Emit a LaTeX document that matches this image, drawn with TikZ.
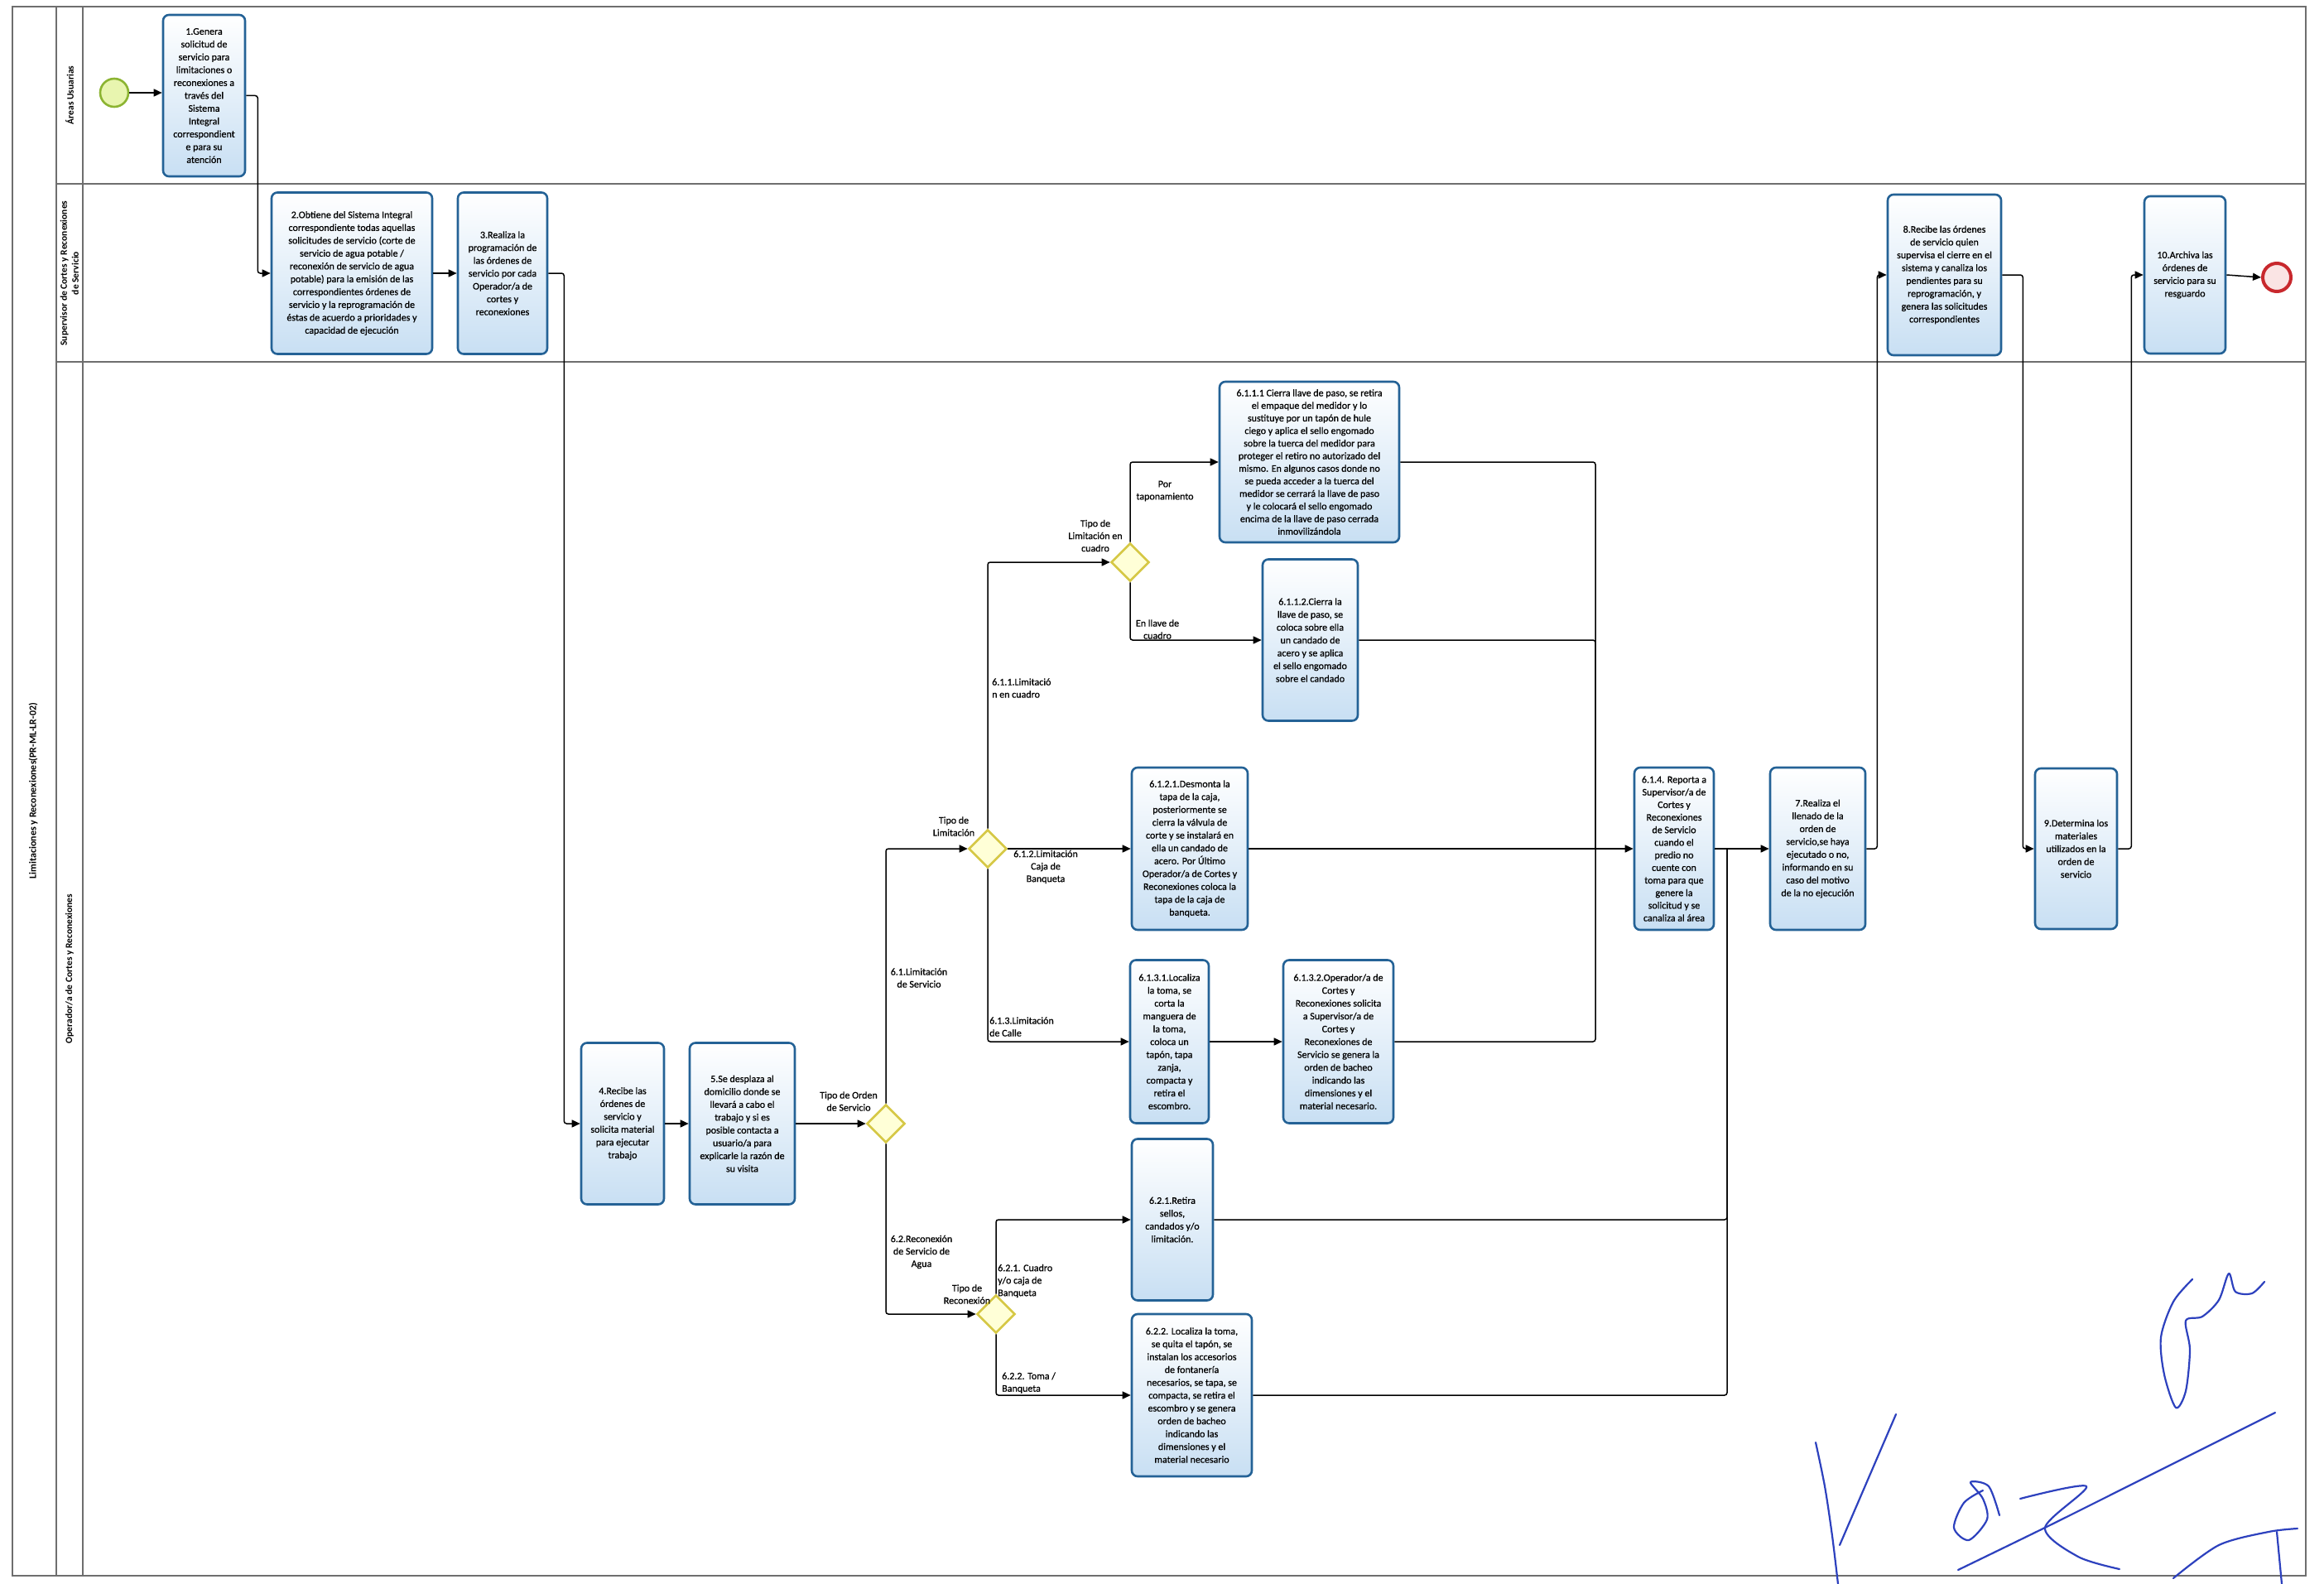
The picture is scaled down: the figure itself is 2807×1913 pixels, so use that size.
\documentclass[tikz,border=0pt]{standalone}
\usepackage{fontspec}
\setmainfont{Carlito}
\newfontfamily\semibold{Carlito}[FakeBold=0.6]
\usetikzlibrary{shapes.geometric,arrows.meta}
\definecolor{taskborder}{RGB}{36,98,150}
\definecolor{taskfill}{RGB}{200,223,243}
\definecolor{gwborder}{RGB}{214,200,70}
\definecolor{gwfill}{RGB}{255,255,215}
\definecolor{startborder}{RGB}{140,180,50}
\definecolor{startfill}{RGB}{232,245,175}
\definecolor{endborder}{RGB}{200,40,45}
\definecolor{endfill}{RGB}{250,228,228}
\definecolor{poolline}{RGB}{110,110,110}
\definecolor{sigblue}{RGB}{45,65,190}
\begin{document}
\begin{tikzpicture}[x=1pt,y=-1pt,
  task/.style={draw=taskborder, line width=2.6pt, rounded corners=7pt,
    top color=white, bottom color=taskfill, align=center,
    font=\semibold\fontsize{12}{15.5}\selectfont, inner sep=2pt},
  gw/.style={diamond, draw=gwborder, line width=2.6pt, fill=gwfill,
    minimum width=46pt, minimum height=46pt, inner sep=0pt},
  flow/.style={draw=black, line width=1.5pt, rounded corners=3pt,
    -{Triangle[length=10pt,width=9pt]}},
  conn/.style={draw=black, line width=1.5pt, rounded corners=3pt},
  elabel/.style={font=\semibold\fontsize{12}{15}\selectfont, align=center, inner sep=0pt},
  lanelabel/.style={rotate=90, font=\bfseries\fontsize{11.5}{14}\selectfont, align=center},
  sig/.style={draw=sigblue, line width=2.2pt, line cap=round, line join=round}
]
\useasboundingbox (0,0) rectangle (2807,1913);
\fill[white] (0,0) rectangle (2807,1913);

% pool and lanes
\draw[poolline, line width=1.6pt] (15,8) rectangle (2785,1903);
\draw[poolline, line width=1.2pt] (68,8) -- (68,1903);
\draw[poolline, line width=1.2pt] (100,8) -- (100,1903);
\draw[poolline, line width=1.2pt] (68,222) -- (2785,222);
\draw[poolline, line width=1.2pt] (68,437) -- (2785,437);
\node[rotate=90, font=\bfseries\fontsize{12}{14}\selectfont] (pooltitle) at (40,955) {Limitaciones y Reconexiones(PR-ML-LR-02)};
\node[lanelabel] (lane1) at (84,115) {Áreas Usuarias};
\node[lanelabel] (lane2) at (84,330) {Supervisor de Cortes y Reconexiones\\de Servicio};
\node[lanelabel] (lane3) at (84,1170) {Operador/a de Cortes y Reconexiones};

% events
\node[circle, draw=startborder, fill=startfill, line width=2.6pt, minimum size=34pt, inner sep=0pt] (start) at (138,112) {};
\node[circle, draw=endborder, fill=endfill, line width=4pt, minimum size=34pt, inner sep=0pt] (end) at (2750,335) {};

% tasks
\node[task, minimum width=99pt, minimum height=195pt] (t1) at (246.5,115.5) {1.Genera\\solicitud de\\servicio para\\limitaciones o\\reconexiones a\\través del\\Sistema\\Integral\\correspondient\\e para su\\atención};
\node[task, minimum width=194pt, minimum height=195pt] (t2) at (425,330) {2.Obtiene del Sistema Integral\\correspondiente todas aquellas\\solicitudes de servicio (corte de\\servicio de agua potable /\\reconexión de servicio de agua\\potable) para la emisión de las\\correspondientes órdenes de\\servicio y la reprogramación de\\éstas de acuerdo a prioridades y\\capacidad de ejecución};
\node[task, minimum width=108pt, minimum height=195pt] (t3) at (607,330) {3.Realiza la\\programación de\\las órdenes de\\servicio por cada\\Operador/a de\\cortes y\\reconexiones};
\node[task, minimum width=100pt, minimum height=195pt] (t4) at (752,1357) {4.Recibe las\\órdenes de\\servicio y\\solicita material\\para ejecutar\\trabajo};
\node[task, minimum width=127pt, minimum height=195pt] (t5) at (896.5,1357) {5.Se desplaza al\\domicilio donde se\\llevará a cabo el\\trabajo y si es\\posible contacta a\\usuario/a para\\explicarle la razón de\\su visita};
\node[task, minimum width=217pt, minimum height=194pt, font=\semibold\fontsize{12}{15.2}\selectfont] (t6111) at (1581.5,558) {6.1.1.1 Cierra llave de paso, se retira\\el empaque del medidor y lo\\sustituye por un tapón de hule\\ciego y aplica el sello engomado\\sobre la tuerca del medidor para\\proteger el retiro no autorizado del\\mismo. En algunos casos donde no\\se pueda acceder a la tuerca del\\medidor se cerrará la llave de paso\\y le colocará el sello engomado\\encima de la llave de paso cerrada\\inmovilizándola};
\node[task, minimum width=115pt, minimum height=195pt] (t6112) at (1582.5,773) {6.1.1.2.Cierra la\\llave de paso, se\\coloca sobre ella\\un candado de\\acero y se aplica\\el sello engomado\\sobre el candado};
\node[task, minimum width=140pt, minimum height=196pt] (t6121) at (1437,1025) {6.1.2.1.Desmonta la\\tapa de la caja,\\posteriormente se\\cierra la válvula de\\corte y se instalará en\\ella un candado de\\acero. Por Último\\Operador/a de Cortes y\\Reconexiones coloca la\\tapa de la caja de\\banqueta.};
\node[task, minimum width=95pt, minimum height=197pt] (t6131) at (1412.5,1258) {6.1.3.1.Localiza\\la toma, se\\corta la\\manguera de\\la toma,\\coloca un\\tapón, tapa\\zanja,\\compacta y\\retira el\\escombro.};
\node[task, minimum width=133pt, minimum height=197pt] (t6132) at (1616.5,1258) {6.1.3.2.Operador/a de\\Cortes y\\Reconexiones solicita\\a Supervisor/a de\\Cortes y\\Reconexiones de\\Servicio se genera la\\orden de bacheo\\indicando las\\dimensiones y el\\material necesario.};
\node[task, minimum width=96pt, minimum height=196pt, font=\semibold\fontsize{12}{15.2}\selectfont] (t614) at (2022,1025) {6.1.4. Reporta a\\Supervisor/a de\\Cortes y\\Reconexiones\\de Servicio\\cuando el\\predio no\\cuente con\\toma para que\\genere la\\solicitud y se\\canaliza al área};
\node[task, minimum width=115pt, minimum height=196pt] (t7) at (2195.5,1025) {7.Realiza el\\llenado de la\\orden de\\servicio,se haya\\ejecutado o no,\\informando en su\\caso del motivo\\de la no ejecución};
\node[task, minimum width=137pt, minimum height=194pt] (t8) at (2348.5,332) {8.Recibe las órdenes\\de servicio quien\\supervisa el cierre en el\\sistema y canaliza los\\pendientes para su\\reprogramación, y\\genera las solicitudes\\correspondientes};
\node[task, minimum width=99pt, minimum height=194pt] (t9) at (2507.5,1025) {9.Determina los\\materiales\\utilizados en la\\orden de\\servicio};
\node[task, minimum width=98pt, minimum height=190pt] (t10) at (2639,332) {10.Archiva las\\órdenes de\\servicio para su\\resguardo};
\node[task, minimum width=98pt, minimum height=195pt] (t621) at (1416,1473) {6.2.1.Retira\\sellos,\\candados y/o\\limitación.};
\node[task, minimum width=145pt, minimum height=196pt] (t622) at (1439.5,1685) {6.2.2. Localiza la toma,\\se quita el tapón, se\\instalan los accesorios\\de fontanería\\necesarios, se tapa, se\\compacta, se retira el\\escombro y se genera\\orden de bacheo\\indicando las\\dimensiones y el\\material necesario};

% gateways
\node[gw] (g1) at (1070,1357) {};
\node[gw] (g2) at (1193,1025) {};
\node[gw] (g4) at (1365,679) {};
\node[gw] (g3) at (1203,1587) {};

% gateway labels
\node[elabel] (g1lab) at (1025,1330) {Tipo de Orden\\de Servicio};
\node[elabel] (g2lab) at (1152,998) {Tipo de\\Limitación};
\node[elabel] (g4lab) at (1323,647) {Tipo de\\Limitación en\\cuadro};
\node[elabel] (g3lab) at (1168,1563) {Tipo de\\Reconexión};

% junction coordinates
\coordinate (j1) at (1927,1025);
\coordinate (j2) at (2086,1025);

% connectors
\draw[flow] (start.east) -- (start.east -| t1.west);
\draw[flow] (t1.east) -- ++(14,0) |- (t2.west);
\draw[flow] (t2.east) -- (t3.west);
\draw[flow] (t3.east) -- ++(19,0) |- (t4.west);
\draw[flow] (t4.east) -- (t5.west);
\draw[flow] (t5.east) -- (g1.west);
\draw[flow] (g1.north) |- (g2.west);
\draw[flow] (g1.south) |- (g3.west);
\draw[flow] (g2.north) |- (g4.west);
\draw[flow] (g2.east) -- (t6121.west);
\draw[flow] (g2.south) |- (t6131.west);
\draw[flow] (g4.north) |- (t6111.west);
\draw[flow] (g4.south) |- (t6112.west);
\draw[flow] (t6131.east) -- (t6132.west);
\draw[conn] (t6111.east) -| (j1);
\draw[conn] (t6112.east) -| (j1);
\draw[conn] (t6132.east) -| (j1);
\draw[flow] (t6121.east) -- (t614.west);
\draw[flow] (g3.north) |- (t621.west);
\draw[flow] (g3.south) |- (t622.west);
\draw[conn] (t621.east) -| (j2);
\draw[conn] (t622.east) -| (j2);
\draw[flow] (t614.east) -- (t7.west);
\draw[flow] (t7.east) -- ++(13,0) |- (t8.west);
\draw[flow] (t8.east) -- ++(25,0) |- (t9.west);
\draw[flow] (t9.east) -- ++(16,0) |- (t10.west);
\draw[flow] (t10.east) -- (end.west);

% edge labels
\node[elabel] (e61) at (1110,1181) {6.1.Limitación\\de Servicio};
\node[elabel] (e62) at (1113,1512) {6.2.Reconexión\\de Servicio de\\Agua};
\node[elabel, anchor=west, align=left] (e611) at (1198,831) {6.1.1.Limitació\\n en cuadro};
\node[elabel] (e612) at (1263,1047) {6.1.2.Limitación\\Caja de\\Banqueta};
\node[elabel, anchor=west, align=left] (e613) at (1195,1240) {6.1.3.Limitación\\de Calle};
\node[elabel] (epor) at (1407,593) {Por\\taponamiento};
\node[elabel] (ellave) at (1398,760) {En llave de\\cuadro};
\node[elabel, anchor=west, align=left] (e621) at (1205,1547) {6.2.1. Cuadro\\y/o caja de\\Banqueta};
\node[elabel, anchor=west, align=left] (e622) at (1210,1670) {6.2.2. Toma /\\Banqueta};

% handwritten signatures
\draw[sig] plot[smooth] coordinates {(2193,1742) (2204,1795) (2213,1855) (2220,1913)};
\draw[sig] (2222,1866) -- (2290,1708);
\draw[sig] plot[smooth] coordinates {(2648,1545) (2625,1572) (2610,1615) (2614,1660) (2628,1700) (2640,1680) (2645,1630) (2640,1595) (2660,1590) (2680,1570) (2692,1538) (2700,1560) (2720,1562) (2735,1548)};
\draw[sig] plot[smooth] coordinates {(2365,1896) (2480,1840) (2600,1780) (2748,1706)};
\draw[sig] plot[smooth] coordinates {(2395,1800) (2372,1815) (2360,1845) (2378,1860) (2400,1835) (2395,1810) (2380,1790) (2402,1795) (2415,1830)};
\draw[sig] plot[smooth] coordinates {(2440,1810) (2520,1795) (2470,1845) (2510,1880) (2560,1895)};
\draw[sig] plot[smooth] coordinates {(2625,1906) (2680,1866) (2740,1850) (2775,1846)};
\draw[sig] (2750,1850) -- (2756,1913);
\end{tikzpicture}
\end{document}
